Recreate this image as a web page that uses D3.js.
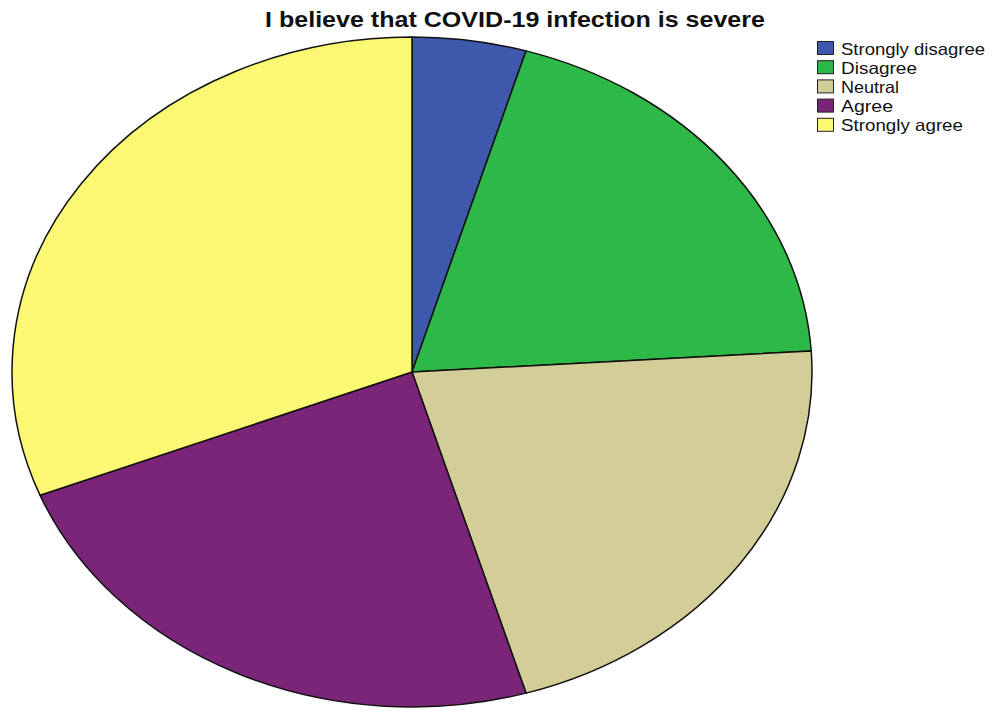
<!DOCTYPE html>
<html>
<head>
<meta charset="utf-8">
<script src="https://cdn.jsdelivr.net/npm/d3@7"></script>
<style>
  html, body { margin: 0; padding: 0; background: #fff; }
  svg { display: block; }
</style>
</head>
<body>
<svg id="chart" width="995" height="711"></svg>
<script>
// Response categories and share of respondents (%)
const categories = ["Strongly disagree", "Disagree", "Neutral", "Agree", "Strongly agree"];
const percents = [4.6, 19.4, 21.4, 23.6, 31.0];
const colors = ["#3E58AC", "#2EB848", "#D3CE97", "#7B2579", "#FBF873"];
const titleText = "I believe that COVID-19 infection is severe";

const svg = d3.select("#chart");

// Elliptical pie: circle of radius ry stretched horizontally
const cx = 412, cy = 372, rx = 400, ry = 335;

const data = categories.map((c, i) => ({ cat: c, value: percents[i] }));
const pie = d3.pie().value(d => d.value).sort(null);
const arc = d3.arc().innerRadius(0).outerRadius(ry);
const color = d3.scaleOrdinal().domain(categories).range(colors);

const g = svg.append("g")
  .attr("transform", `translate(${cx},${cy}) scale(${rx / ry},1)`);

g.selectAll("path")
  .data(pie(data))
  .join("path")
  .attr("d", arc)
  .attr("fill", d => color(d.data.cat))
  .attr("stroke", "#111")
  .attr("stroke-width", 1.5)
  .attr("stroke-linejoin", "round")
  .attr("vector-effect", "non-scaling-stroke");

// Title
svg.append("text")
  .attr("x", 515)
  .attr("y", 27)
  .attr("text-anchor", "middle")
  .attr("font-family", "Liberation Sans, Arial, sans-serif")
  .attr("font-weight", "bold")
  .attr("font-size", 22)
  .attr("fill", "#111")
  .attr("textLength", 500)
  .attr("lengthAdjust", "spacingAndGlyphs")
  .text(titleText);

// Legend
const legend = svg.append("g").attr("transform", "translate(817,41)");
const rowH = 19.2;
const textWidths = [144, 76, 58, 52, 122];
const items = legend.selectAll("g")
  .data(categories)
  .join("g")
  .attr("transform", (d, i) => `translate(0,${i * rowH})`);

items.append("rect")
  .attr("x", 0.5)
  .attr("y", 0.5)
  .attr("width", 16)
  .attr("height", 13)
  .attr("fill", d => color(d))
  .attr("stroke", "#222")
  .attr("stroke-width", 1);

items.append("text")
  .attr("x", 24)
  .attr("y", 13.5)
  .attr("font-family", "Liberation Sans, Arial, sans-serif")
  .attr("font-size", 16.5)
  .attr("fill", "#111")
  .attr("textLength", (d, i) => textWidths[i])
  .attr("lengthAdjust", "spacingAndGlyphs")
  .text(d => d);
</script>
</body>
</html>
